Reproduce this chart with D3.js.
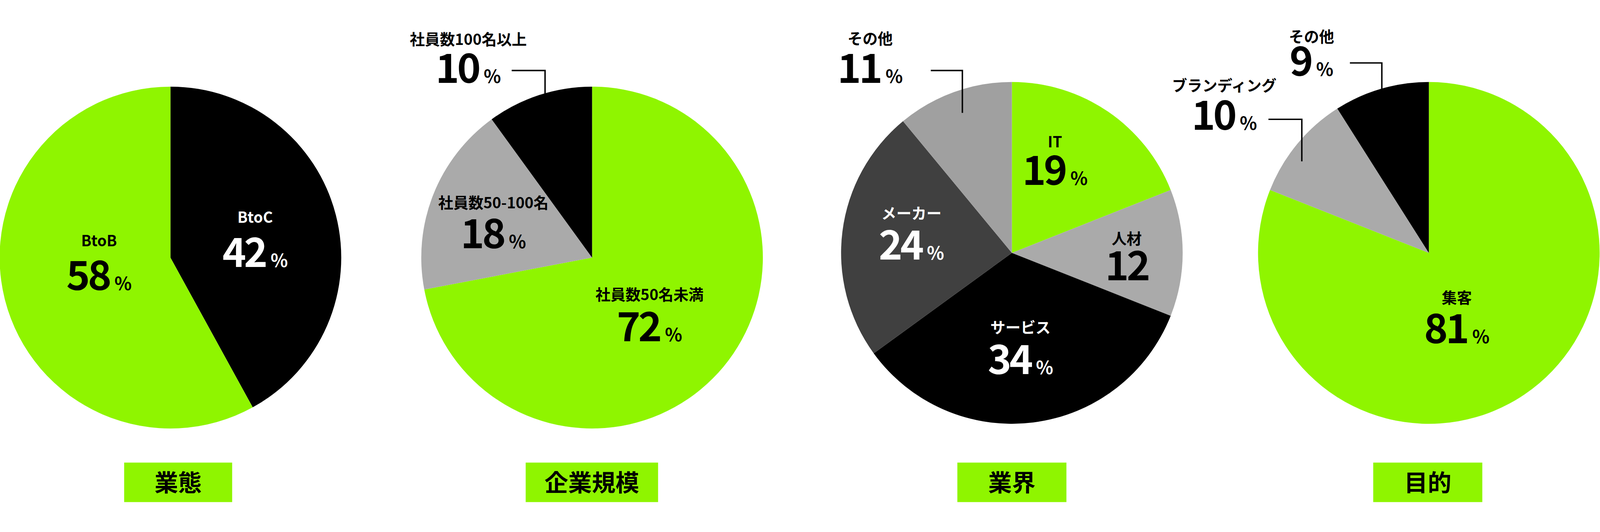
<!DOCTYPE html>
<html><head><meta charset="utf-8">
<script src="https://cdn.jsdelivr.net/npm/d3@7"></script>
<style>html,body{margin:0;background:#fff;overflow:hidden}svg{display:block;width:100vw;height:100vh}text{font-family:"Noto Sans CJK JP","Noto Sans",sans-serif;font-weight:700}</style>
</head><body><svg id="c" viewBox="0 0 4459 1361" preserveAspectRatio="xMidYMid meet"></svg>
<script>
const titles = ["業態","企業規模","業界","目的"];
const cat1 = ["BtoC","BtoB"], val1 = [42,58];
const cat2 = ["社員数50名未満","社員数50-100名","社員数100名以上"], val2 = [72,18,10];
const cat3 = ["IT","人材","サービス","メーカー","その他"], val3 = [19,12,34,24,11];
const cat4 = ["集客","ブランディング","その他"], val4 = [81,10,9];
const GREEN="#8ff500";
const charts = [
 {cats:cat1, vals:val1, cx:475, cy:657, colors:["#000",GREEN], ink:["#fff","#000"],
  labels:[[711,560,683],[276,626,748]], box:[346,647]},
 {cats:cat2, vals:val2, cx:1650, cy:657, colors:[GREEN,"#aaaaaa","#000"], ink:["#000","#000","#000"],
  labels:[[1810,776,890],[1375,520,631],[1305,65,171]], box:[1465,1834],
  leaders:[[[1426,136],[1519,136],[1519,254]]]},
 {cats:cat3, vals:val3, cx:2820, cy:644, colors:[GREEN,"#aaaaaa","#000","#404040","#a0a0a0"], ink:["#000","#000","#fff","#fff","#000"],
  labels:[[2940,350,455],[3140,620,720],[2844,867,981],[2540,549,663],[2425,63,171]], box:[2668,2972],
  leaders:[[[2594,136],[2682,136],[2682,254]]], noPct:[1]},
 {cats:cat4, vals:val4, cx:3982, cy:644, colors:[GREEN,"#aaaaaa","#000"], ink:["#000","#000","#000"],
  labels:[[4060,785,896],[3412,193,301],[3655,57,151]], box:[3827,4131],
  leaders:[[[3535,272],[3628,272],[3628,389]],[[3762,115],[3851,115],[3851,239]]]}
];
const R=476;
const svg=d3.select("#c");
const pie=d3.pie().sort(null).value(d=>d);
const arc=d3.arc().innerRadius(0).outerRadius(R);
charts.forEach((c,i)=>{
  const g=svg.append("g").attr("transform",`translate(${c.cx},${c.cy})`);
  g.selectAll("path").data(pie(c.vals)).join("path").attr("d",arc).attr("fill",(d,j)=>c.colors[j]);
  (c.leaders||[]).forEach(pts=>{
    svg.append("path").attr("d",d3.line()(pts)).attr("fill","none").attr("stroke","#000").attr("stroke-width",4);
  });
  c.cats.forEach((name,j)=>{
    const [x,ny,vy]=c.labels[j];
    svg.append("text").attr("x",x).attr("y",ny).attr("text-anchor","middle").attr("font-size",42).attr("fill",c.ink[j]).text(name);
    const t=svg.append("text").attr("x",x).attr("y",vy).attr("text-anchor","middle").attr("fill",c.ink[j]);
    t.append("tspan").attr("font-size",112).attr("letter-spacing",-6).text(c.vals[j]);
    if(!(c.noPct||[]).includes(j)) t.append("tspan").attr("font-size",50).attr("dx",14).text("%");
  });
  svg.append("rect").attr("x",c.box[0]).attr("y",1228).attr("width",c.box[1]-c.box[0]).attr("height",110).attr("fill",GREEN);
  svg.append("text").attr("x",(c.box[0]+c.box[1])/2).attr("y",1308).attr("text-anchor","middle").attr("font-size",66).attr("fill","#000").text(titles[i]);
});
</script></body></html>
